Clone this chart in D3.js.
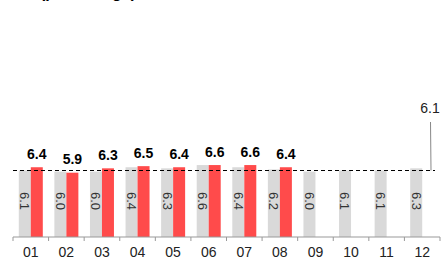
<!DOCTYPE html>
<html><head><meta charset="utf-8">
<script src="https://cdn.jsdelivr.net/npm/d3@7"></script>
<style>body{margin:0;background:#fff;}svg{display:block;font-family:"Liberation Sans",Arial,sans-serif;}</style>
</head><body><svg id="c" width="447" height="260"></svg>
<script>
const months = ["01","02","03","04","05","06","07","08","09","10","11","12"];
const previousYear = [6.1,6.0,6.0,6.4,6.3,6.6,6.4,6.2,6.0,6.1,6.1,6.3];
const currentYear = [6.4,5.9,6.3,6.5,6.4,6.6,6.6,6.4];
const averageValue = [6.1];
const titleText = ["Monthly rate (percentage)"];

const svg = d3.select("#c");
const x = d3.scaleBand().domain(months).range([13,440]).paddingInner(0).paddingOuter(0);
const y = d3.scaleLinear().domain([0,10]).range([237,128]);
const barW = 12;

svg.append("text").attr("x",136).attr("y",-2.5).attr("text-anchor","end")
  .attr("font-size",16).attr("font-weight","bold").attr("fill","#000").text(titleText[0]);

// grey bars
svg.selectAll(".g").data(previousYear).enter().append("rect")
  .attr("x",(d,i)=>x(months[i])+x.bandwidth()/2-barW)
  .attr("width",barW).attr("y",d=>y(d)).attr("height",d=>y(0)-y(d)).attr("fill","#d9d9d9");
// red bars
svg.selectAll(".r").data(currentYear).enter().append("rect")
  .attr("x",(d,i)=>x(months[i])+x.bandwidth()/2)
  .attr("width",barW).attr("y",d=>y(d)).attr("height",d=>y(0)-y(d)).attr("fill","#ff4b4b");

// dashed average line
svg.append("line").attr("x1",13).attr("x2",435).attr("y1",y(averageValue[0])).attr("y2",y(averageValue[0]))
  .attr("stroke","#000").attr("stroke-width",1).attr("stroke-dasharray","4,3");
// callout
svg.append("line").attr("x1",430.5).attr("x2",431).attr("y1",122).attr("y2",y(averageValue[0]))
  .attr("stroke","#888").attr("stroke-width",1);
svg.append("text").attr("x",430).attr("y",113).attr("text-anchor","middle")
  .attr("font-size",14).attr("fill","#222").text(averageValue[0].toFixed(1));

// grey labels rotated
svg.selectAll(".gl").data(previousYear).enter().append("text")
  .attr("transform",(d,i)=>`translate(${x(months[i])+x.bandwidth()/2-barW/2},201) rotate(90)`)
  .attr("text-anchor","middle").attr("dy","0.35em").attr("font-size",13).attr("fill","#333")
  .text(d=>d.toFixed(1));
// red labels
svg.selectAll(".rl").data(currentYear).enter().append("text")
  .attr("x",(d,i)=>x(months[i])+x.bandwidth()/2+barW/2).attr("y",d=>y(d)-8.5)
  .attr("text-anchor","middle").attr("font-size",14).attr("font-weight","bold").attr("fill","#000")
  .text(d=>d.toFixed(1));

// axis
const ax = svg.append("g").attr("transform","translate(0,237)");
ax.append("line").attr("x1",13).attr("x2",440).attr("stroke","#999");
const ticks = months.map(m=>x(m)).concat([440]);
ax.selectAll(".t").data(ticks).enter().append("line").attr("x1",d=>d).attr("x2",d=>d)
  .attr("y1",0).attr("y2",4).attr("stroke","#999");
ax.selectAll(".l").data(months).enter().append("text")
  .attr("x",d=>x(d)+x.bandwidth()/2).attr("y",19.5).attr("text-anchor","middle")
  .attr("font-size",14).attr("fill","#222").text(d=>d);
</script></body></html>
